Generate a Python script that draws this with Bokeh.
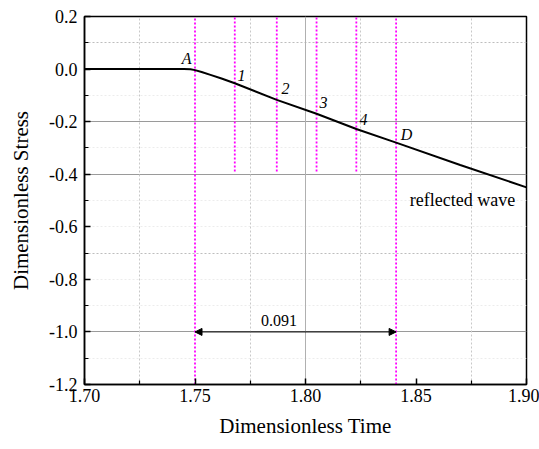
from bokeh.plotting import figure
from bokeh.embed import file_html
from bokeh.resources import INLINE
from bokeh.models import (Range1d, NumeralTickFormatter, Grid,
                          FixedTicker, Arrow, NormalHead, ColumnDataSource)
from bokeh.core.properties import value

# ---- data ----
time = [1.70, 1.745, 1.748, 1.750, 1.753, 1.757, 1.762, 1.768, 1.787, 1.805, 1.823, 1.841, 1.870, 1.90]
stress = [0.0, 0.0, -0.001, -0.004, -0.011, -0.022, -0.036, -0.054, -0.117, -0.170, -0.228, -0.280, -0.365, -0.450]

x_ticks = [1.70, 1.75, 1.80, 1.85, 1.90]
x_minor = [1.725, 1.775, 1.825, 1.875]
y_ticks = [0.2, 0.0, -0.2, -0.4, -0.6, -0.8, -1.0, -1.2]
y_minor = [0.1, -0.1, -0.3, -0.5, -0.7, -0.9, -1.1]

marker_x = [1.750, 1.768, 1.787, 1.805, 1.823, 1.841]
marker_bottom = [-1.2, -0.39, -0.39, -0.39, -0.39, -1.2]
marker_top = [0.2, 0.2, 0.2, 0.2, 0.2, 0.2]

label_text = ["A", "1", "2", "3", "4", "D"]
label_x = [1.7462, 1.771, 1.791, 1.8082, 1.8262, 1.8457]
label_y = [0.040, -0.023, -0.075, -0.128, -0.192, -0.249]

interval_start = 1.750
interval_end = 1.841
interval_y = -1.0
interval_label = "0.091"

wave_label = "reflected wave"
wave_xy = (1.871, -0.498)
interval_label_xy = (1.788, -0.955)

font = "Liberation Serif"

p = figure(width=539, height=449, output_backend="svg", toolbar_location=None,
           x_range=Range1d(1.70, 1.90), y_range=Range1d(-1.2, 0.2),
           min_border_left=84, min_border_right=13, min_border_top=16, min_border_bottom=65)
p.background_fill_color = "white"
p.border_fill_color = "white"
p.outline_line_color = "black"
p.outline_line_width = 1.5
p.xgrid.visible = False
p.ygrid.visible = False

# grids
faint = Grid(dimension=1, ticker=FixedTicker(ticks=[-0.1, -0.3, -0.5, -0.6, -0.8, -0.9, -1.1]),
             grid_line_color="#ececec", grid_line_width=1, grid_line_dash="2 2")
p.add_layout(faint)
dot_y = Grid(dimension=1, ticker=FixedTicker(ticks=[0.1, -0.7]),
             grid_line_color="#bdbdbd", grid_line_width=1, grid_line_dash="2 2")
p.add_layout(dot_y)
solid_y = Grid(dimension=1, ticker=FixedTicker(ticks=[-0.2, -0.4, -1.0]),
               grid_line_color="#9a9a9a", grid_line_width=1)
p.add_layout(solid_y)
dot_x = Grid(dimension=0, ticker=FixedTicker(ticks=x_minor),
             grid_line_color="#c8c8c8", grid_line_width=1, grid_line_dash="2 2")
p.add_layout(dot_x)
solid_x = Grid(dimension=0, ticker=FixedTicker(ticks=[1.80]),
               grid_line_color="#b0b0b0", grid_line_width=1)
p.add_layout(solid_x)

# axes
p.xaxis.ticker = FixedTicker(ticks=x_ticks, minor_ticks=x_minor)
p.yaxis.ticker = FixedTicker(ticks=y_ticks, minor_ticks=y_minor)
p.xaxis.formatter = NumeralTickFormatter(format="0.00")
p.yaxis.formatter = NumeralTickFormatter(format="0.0")
for ax in (p.xaxis, p.yaxis):
    ax.axis_line_width = 1.5
    ax.axis_line_color = "black"
    ax.major_tick_in = 6
    ax.major_tick_out = 0
    ax.minor_tick_in = 4
    ax.minor_tick_out = 0
    ax.major_tick_line_width = 1.5
    ax.minor_tick_line_width = 1.2
    ax.major_label_text_font = font
    ax.major_label_text_font_size = "18px"
    ax.major_label_text_color = "black"
    ax.axis_label_text_font = font
    ax.axis_label_text_font_size = "21px"
    ax.axis_label_text_font_style = "normal"
    ax.axis_label_text_color = "black"
p.xaxis.axis_label = "Dimensionless Time"
p.yaxis.axis_label = "Dimensionless Stress"
p.xaxis.major_label_standoff = 4
p.yaxis.major_label_standoff = 7
p.xaxis.axis_label_standoff = 9
p.yaxis.axis_label_standoff = 13

# magenta markers
p.segment(x0=marker_x, y0=marker_bottom, x1=marker_x, y1=marker_top,
          line_color="#ff00ff", line_width=1.8, line_dash="2 2")

# curve
p.line(time, stress, line_color="black", line_width=2)

# labels
src = ColumnDataSource(dict(x=label_x, y=label_y, t=label_text))
p.text(x="x", y="y", text="t", source=src, text_font=value(font), text_font_style="italic",
       text_font_size="16px", text_align="center", text_baseline="middle", text_color="black")
p.text(x=[wave_xy[0]], y=[wave_xy[1]], text=[wave_label], text_font=value(font),
       text_font_size="18px", text_align="center", text_baseline="middle", text_color="black")
p.text(x=[interval_label_xy[0]], y=[interval_label_xy[1]], text=[interval_label], text_font=value(font),
       text_font_size="16px", text_align="center", text_baseline="middle", text_color="black")

# interval arrow
p.add_layout(Arrow(x_start=interval_start, y_start=interval_y, x_end=interval_end, y_end=interval_y,
                   line_color="black", line_width=1,
                   start=NormalHead(size=7, fill_color="black", line_color="black"),
                   end=NormalHead(size=7, fill_color="black", line_color="black")))

open("out.html", "w").write(file_html(p, INLINE))
